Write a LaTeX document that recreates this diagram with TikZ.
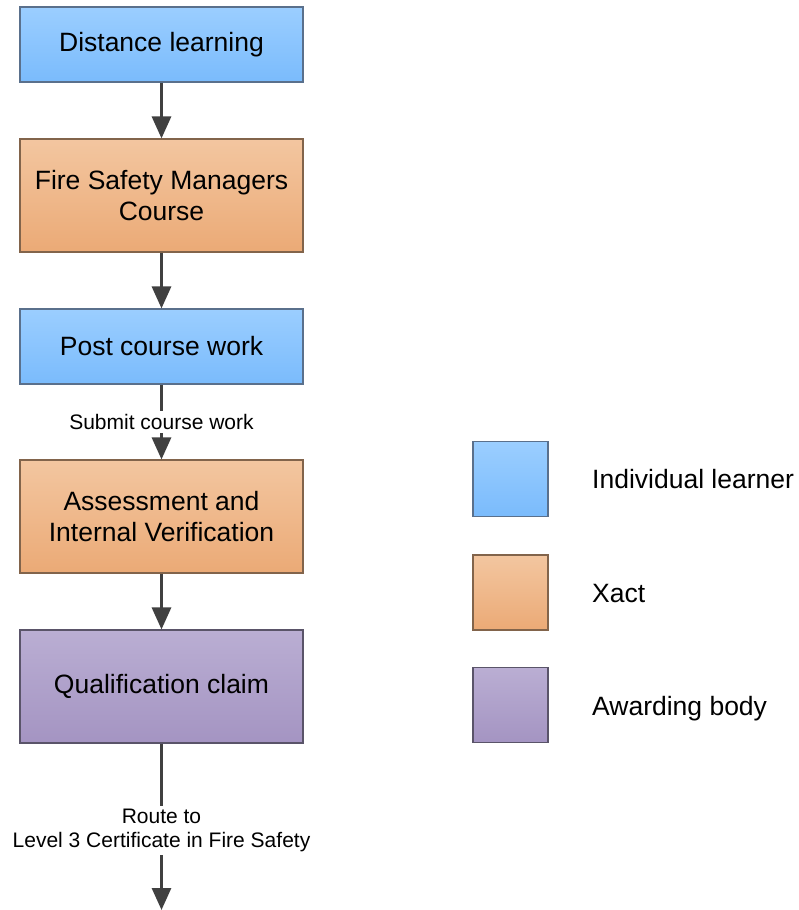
\documentclass[tikz,border=0pt]{standalone}
\usepackage{fontspec}
\setmainfont{Liberation Sans}
\usetikzlibrary{arrows.meta}
\definecolor{bluetop}{RGB}{155,206,255}
\definecolor{bluebot}{RGB}{122,187,252}
\definecolor{blueedge}{RGB}{90,112,140}
\definecolor{orangetop}{RGB}{243,198,160}
\definecolor{orangebot}{RGB}{235,170,118}
\definecolor{orangeedge}{RGB}{130,100,75}
\definecolor{purpletop}{RGB}{186,174,211}
\definecolor{purplebot}{RGB}{164,148,194}
\definecolor{purpleedge}{RGB}{90,84,105}
\definecolor{arrowgray}{RGB}{64,64,64}
\tikzset{
  box/.style={draw, line width=1.1pt, minimum width=283pt, inner sep=0pt, align=center,
    font=\fontsize{26.5}{31}\selectfont},
  bluebox/.style={box, top color=bluetop, bottom color=bluebot, draw=blueedge},
  orangebox/.style={box, top color=orangetop, bottom color=orangebot, draw=orangeedge},
  purplebox/.style={box, top color=purpletop, bottom color=purplebot, draw=purpleedge},
  legbox/.style={minimum width=75pt, minimum height=75pt},
  legtext/.style={anchor=base west, inner sep=0pt, font=\fontsize{26.5}{31}\selectfont},
  arr/.style={draw=arrowgray, line width=3pt, -{Triangle[length=22pt,width=19pt]}},
  lbl/.style={fill=white, inner sep=3pt, align=center, text=black, font=\fontsize{21}{24}\selectfont}
}
\begin{document}
\begin{tikzpicture}[x=1pt,y=-1pt]
\useasboundingbox (0,0) rectangle (798,910);
\node[bluebox, minimum height=75pt] (b1) at (161.5,44.5) {Distance learning};
\node[orangebox, minimum height=113pt] (b2) at (161.5,195.5) {Fire Safety Managers\\Course};
\node[bluebox, minimum height=75pt] (b3) at (161.5,346.5) {Post course work};
\node[orangebox, minimum height=113pt] (b4) at (161.5,516.5) {Assessment and\\Internal Verification};
\node[purplebox, minimum height=113pt] (b5) at (161.5,686.5) {Qualification claim};
\coordinate (end) at (161.5,910);

\draw[arr] (b1) -- (b2);
\draw[arr] (b2) -- (b3);
\draw[arr] (b3) -- (b4) node[lbl, midway] {Submit course work};
\draw[arr] (b4) -- (b5);
\draw[arr] (b5) -- (end) node[lbl, pos=0.52] {Route to\\Level 3 Certificate in Fire Safety};

\node[bluebox, legbox] (l1) at (510.5,479) {};
\node[orangebox, legbox] (l2) at (510.5,592.5) {};
\node[purplebox, legbox] (l3) at (510.5,705) {};
\node[legtext] (t1) at (592,488.5) {Individual learner};
\node[legtext] (t2) at (592,602) {Xact};
\node[legtext] (t3) at (592,715) {Awarding body};
\end{tikzpicture}
\end{document}
